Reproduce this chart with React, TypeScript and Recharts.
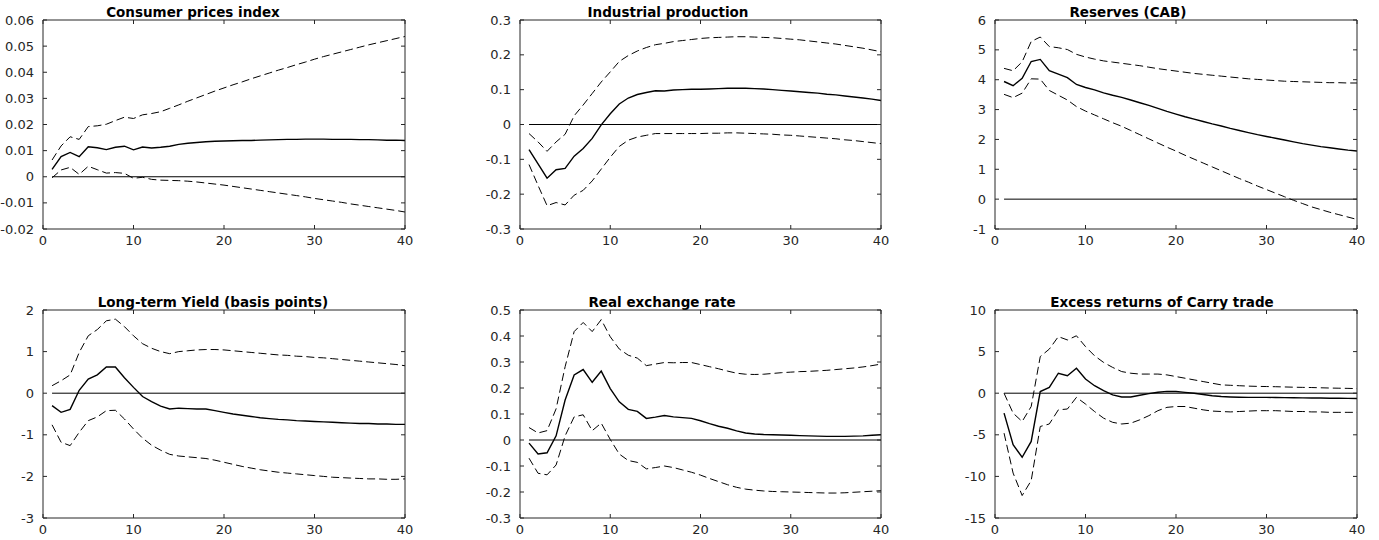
import { LineChart, Line, XAxis, YAxis, ReferenceLine } from "recharts";

const FONT = "'DejaVu Sans', sans-serif";
const INK = "#262626";

// horizons
const steps = [
  1, 2, 3, 4, 5, 6, 7, 8, 9, 10, 11, 12, 13, 14, 15, 16, 17, 18, 19, 20,
  21, 22, 23, 24, 25, 26, 27, 28, 29, 30, 31, 32, 33, 34, 35, 36, 37, 38, 39, 40,
];
const xTicks = [0, 10, 20, 30, 40];

// Consumer prices index
const cpiMid = [
  0.0028, 0.0077, 0.0093, 0.0077, 0.0115, 0.0111, 0.0104, 0.0113, 0.0117, 0.0103,
  0.0114, 0.011, 0.0113, 0.0117, 0.0124, 0.0128, 0.0131, 0.0134, 0.0136, 0.0137,
  0.0138, 0.0139, 0.0139, 0.014, 0.0141, 0.0142, 0.0143, 0.0143, 0.0144, 0.0144,
  0.0144, 0.0143, 0.0143, 0.0143, 0.0142, 0.0142, 0.0141, 0.014, 0.014, 0.0139,
];
const cpiHi = [
  0.0064, 0.0118, 0.0153, 0.0143, 0.0192, 0.0195, 0.0201, 0.0215, 0.0228, 0.0223,
  0.0237, 0.0242, 0.0249, 0.0262, 0.0275, 0.0289, 0.0302, 0.0315, 0.0328, 0.034,
  0.0352, 0.0363, 0.0375, 0.0386, 0.0397, 0.0408, 0.0418, 0.0429, 0.0439, 0.045,
  0.046, 0.0469, 0.0478, 0.0487, 0.0496, 0.0505, 0.0513, 0.0521, 0.0529, 0.0537,
];
const cpiLo = [
  -0.0004, 0.0026, 0.0036, 0.0009, 0.004, 0.0027, 0.0014, 0.0016, 0.0013, -0.0006,
  -0.0002, -0.001, -0.0013, -0.0014, -0.0015, -0.0017, -0.002, -0.0024, -0.0028, -0.0032,
  -0.0037, -0.0042, -0.0047, -0.0052, -0.0057, -0.0062, -0.0067, -0.0072, -0.0077, -0.0083,
  -0.0088, -0.0093, -0.0098, -0.0104, -0.0109, -0.0114, -0.0119, -0.0124, -0.0129, -0.0135,
];
const cpiTicks = [-0.02, -0.01, 0, 0.01, 0.02, 0.03, 0.04, 0.05, 0.06];

// Industrial production
const ipMid = [
  -0.072, -0.113, -0.154, -0.13, -0.126, -0.091, -0.069, -0.04, -0.001, 0.031,
  0.059, 0.076, 0.086, 0.092, 0.097, 0.096, 0.099, 0.1, 0.101, 0.101,
  0.102, 0.103, 0.104, 0.104, 0.104, 0.103, 0.102, 0.1, 0.098, 0.096,
  0.094, 0.092, 0.09, 0.087, 0.085, 0.082, 0.079, 0.076, 0.073, 0.069,
];
const ipHi = [
  -0.026, -0.05, -0.077, -0.05, -0.028, 0.025, 0.056, 0.089, 0.122, 0.151,
  0.181, 0.198, 0.211, 0.221, 0.229, 0.233, 0.238, 0.241, 0.244, 0.247,
  0.249, 0.25, 0.251, 0.252, 0.252, 0.251, 0.25, 0.249, 0.247, 0.245,
  0.243, 0.24, 0.237, 0.234, 0.231, 0.227, 0.223, 0.219, 0.214, 0.209,
];
const ipLo = [
  -0.115, -0.175, -0.233, -0.224, -0.231, -0.203, -0.189, -0.162, -0.128, -0.094,
  -0.063, -0.045, -0.036, -0.031, -0.026, -0.026, -0.026, -0.026, -0.026, -0.026,
  -0.025, -0.025, -0.024, -0.024, -0.025, -0.026, -0.027, -0.028, -0.03, -0.031,
  -0.033, -0.035, -0.037, -0.039, -0.041, -0.044, -0.046, -0.049, -0.052, -0.055,
];
const ipTicks = [-0.3, -0.2, -0.1, 0, 0.1, 0.2, 0.3];

// Reserves (CAB)
const resMid = [
  3.94, 3.8, 4.05, 4.61, 4.68, 4.3, 4.19, 4.07, 3.84, 3.74,
  3.66, 3.56, 3.48, 3.41, 3.32, 3.23, 3.14, 3.04, 2.94, 2.85,
  2.76, 2.68, 2.6, 2.52, 2.45, 2.37, 2.3, 2.23, 2.16, 2.1,
  2.04, 1.98, 1.92, 1.86, 1.81, 1.76, 1.72, 1.68, 1.64, 1.61,
];
const resHi = [
  4.38, 4.3, 4.6, 5.28, 5.43, 5.11, 5.07, 5.01, 4.85, 4.76,
  4.69, 4.63, 4.59, 4.55, 4.51, 4.47, 4.42, 4.37, 4.33, 4.29,
  4.25, 4.21, 4.18, 4.15, 4.12, 4.09, 4.06, 4.03, 4.01, 3.99,
  3.97, 3.95, 3.94, 3.93, 3.92, 3.91, 3.9, 3.9, 3.89, 3.89,
];
const resLo = [
  3.51, 3.4, 3.55, 4.03, 4.02, 3.64, 3.48, 3.32, 3.1, 2.95,
  2.82, 2.69, 2.56, 2.44, 2.3, 2.16, 2.02, 1.88, 1.74, 1.61,
  1.47, 1.34, 1.21, 1.08, 0.95, 0.82, 0.69, 0.57, 0.44, 0.32,
  0.2, 0.08, -0.04, -0.15, -0.26, -0.35, -0.44, -0.52, -0.6, -0.68,
];
const resTicks = [-1, 0, 1, 2, 3, 4, 5, 6];

// Long-term yield
const ltyMid = [
  -0.3, -0.46, -0.39, 0.07, 0.34, 0.44, 0.63, 0.63, 0.37, 0.14,
  -0.08, -0.2, -0.31, -0.38, -0.36, -0.37, -0.38, -0.38, -0.42, -0.46,
  -0.5, -0.53, -0.56, -0.59, -0.61, -0.63, -0.64, -0.66, -0.67, -0.68,
  -0.69, -0.7, -0.71, -0.72, -0.73, -0.73, -0.74, -0.74, -0.75, -0.75,
];
const ltyHi = [
  0.18, 0.3, 0.44, 0.98, 1.38, 1.53, 1.74, 1.78, 1.6, 1.38,
  1.19, 1.08, 1.0, 0.95, 1.0, 1.02, 1.04, 1.05, 1.05, 1.04,
  1.02, 1.0, 0.98, 0.96, 0.94, 0.92, 0.91, 0.89, 0.88, 0.86,
  0.85, 0.83, 0.81, 0.79, 0.77, 0.75, 0.73, 0.71, 0.69, 0.66,
];
const ltyLo = [
  -0.76, -1.18, -1.26, -0.94, -0.66, -0.57, -0.42, -0.41, -0.62, -0.86,
  -1.08, -1.25, -1.37, -1.47, -1.51, -1.53, -1.55, -1.57, -1.61, -1.66,
  -1.71, -1.76, -1.8, -1.84, -1.87, -1.9, -1.92, -1.94, -1.96, -1.98,
  -2.0, -2.02, -2.03, -2.04, -2.05, -2.06, -2.06, -2.07, -2.07, -2.06,
];
const ltyTicks = [-3, -2, -1, 0, 1, 2];

// Real exchange rate
const rerMid = [
  -0.012, -0.054, -0.049, 0.016, 0.154, 0.25, 0.271, 0.222, 0.265, 0.198,
  0.147, 0.118, 0.11, 0.083, 0.088, 0.094, 0.089, 0.086, 0.083, 0.074,
  0.063, 0.053, 0.045, 0.035, 0.027, 0.023, 0.021, 0.02, 0.019, 0.018,
  0.017, 0.016, 0.015, 0.014, 0.014, 0.014, 0.015, 0.016, 0.018, 0.02,
];
const rerHi = [
  0.048, 0.027, 0.036, 0.12, 0.282, 0.417, 0.452, 0.417, 0.463, 0.397,
  0.35, 0.326, 0.315, 0.286, 0.292, 0.298, 0.297, 0.298, 0.298, 0.29,
  0.282, 0.274, 0.265, 0.257, 0.253, 0.252, 0.253, 0.256, 0.259, 0.261,
  0.263, 0.264, 0.266, 0.268, 0.271, 0.274, 0.277, 0.281, 0.286, 0.292,
];
const rerLo = [
  -0.07, -0.128, -0.134, -0.096, 0.016, 0.089, 0.097, 0.036, 0.065, 0.002,
  -0.054, -0.079, -0.086, -0.111, -0.106, -0.1, -0.106, -0.115, -0.124, -0.135,
  -0.148, -0.16, -0.172, -0.182, -0.189, -0.193, -0.196, -0.198, -0.199, -0.2,
  -0.201, -0.202, -0.203, -0.204, -0.204, -0.203, -0.201, -0.199, -0.197, -0.195,
];
const rerTicks = [-0.3, -0.2, -0.1, 0, 0.1, 0.2, 0.3, 0.4, 0.5];

// Excess returns of carry trade
const carryMid = [
  -2.4, -6.2, -7.7, -5.8, 0.2, 0.7, 2.4, 2.1, 3.0, 1.7,
  0.9, 0.3, -0.2, -0.45, -0.45, -0.25, -0.05, 0.12, 0.22, 0.2,
  0.1, 0.0, -0.15, -0.3, -0.4, -0.45, -0.48, -0.5, -0.5, -0.5,
  -0.52, -0.53, -0.55, -0.56, -0.57, -0.58, -0.6, -0.61, -0.62, -0.63,
];
const carryHi = [
  0.0, -2.4, -3.4, -1.6, 4.4, 5.3, 6.8, 6.4, 6.9, 5.6,
  4.5, 3.7, 3.1, 2.6, 2.4, 2.3, 2.3, 2.3, 2.2, 2.0,
  1.8, 1.6, 1.4, 1.2, 1.0, 0.95, 0.9, 0.85, 0.82, 0.8,
  0.78, 0.75, 0.72, 0.7, 0.68, 0.65, 0.62, 0.6, 0.58, 0.55,
];
const carryLo = [
  -4.8, -9.6, -12.3, -10.5, -4.0, -3.7, -2.0, -1.9, -0.5, -1.3,
  -2.2, -3.0, -3.5, -3.7, -3.6, -3.2, -2.7, -2.1, -1.7, -1.6,
  -1.6, -1.8, -2.0, -2.15, -2.2, -2.25, -2.2, -2.15, -2.1, -2.1,
  -2.1, -2.15, -2.2, -2.2, -2.25, -2.25, -2.3, -2.3, -2.3, -2.3,
];
const carryTicks = [-15, -10, -5, 0, 5, 10];

interface PanelProps {
  title: string;
  left: number;
  top: number;
  w: number;
  h: number;
  titleX: number;
  titleY: number;
  mid: number[];
  hi: number[];
  lo: number[];
  yTicks: number[];
}

const YW = 43;
const XH = 25;
const PAD_T = 10;
const PAD_R = 14;
const tickFont = { fill: INK, fontSize: 13, fontFamily: FONT };
const blank = () => "";

function Panel({ title, left, top, w, h, titleX, titleY, mid, hi, lo, yTicks }: PanelProps) {
  const data = steps.map((s, i) => ({ s, mid: mid[i], hi: hi[i], lo: lo[i] }));
  const yDomain = [yTicks[0], yTicks[yTicks.length - 1]];

  return (
    <>
      <div
        style={{
          position: "absolute",
          left: titleX - 200,
          width: 400,
          top: titleY - 9,
          lineHeight: "18px",
          textAlign: "center",
          fontFamily: FONT,
          fontWeight: "bold",
          fontSize: 13.5,
          color: "#000",
        }}
      >
        {title}
      </div>
      <div style={{ position: "absolute", left: left - YW, top: top - 1 - PAD_T }}>
        <LineChart
          width={YW + w + 1 + PAD_R}
          height={PAD_T + 1 + h + XH}
          data={data}
          margin={{ top: PAD_T, right: PAD_R, bottom: 0, left: 0 }}
        >
          <XAxis
            xAxisId="b"
            dataKey="s"
            type="number"
            domain={[0, 40]}
            ticks={xTicks}
            interval={0}
            height={XH}
            tickSize={-4}
            tickMargin={11}
            stroke={INK}
            tick={tickFont}
            allowDataOverflow
          />
          <XAxis
            xAxisId="t"
            dataKey="s"
            type="number"
            orientation="top"
            domain={[0, 40]}
            ticks={xTicks}
            interval={0}
            height={1}
            tickSize={-4}
            tickFormatter={blank}
            stroke={INK}
            allowDataOverflow
          />
          <YAxis
            yAxisId="l"
            type="number"
            domain={yDomain}
            ticks={yTicks}
            interval={0}
            width={YW}
            tickSize={-4}
            tickMargin={13}
            stroke={INK}
            tick={tickFont}
            allowDataOverflow
          />
          <YAxis
            yAxisId="r"
            type="number"
            orientation="right"
            domain={yDomain}
            ticks={yTicks}
            interval={0}
            width={1}
            tickSize={-4}
            tickFormatter={blank}
            stroke={INK}
            allowDataOverflow
          />
          <ReferenceLine
            xAxisId="b"
            yAxisId="l"
            segment={[{ x: 1, y: 0 }, { x: 40, y: 0 }]}
            stroke="#000"
            strokeWidth={1}
          />
          <Line
            xAxisId="b"
            yAxisId="l"
            type="linear"
            dataKey="hi"
            stroke="#000"
            strokeWidth={1}
            strokeDasharray="8 4"
            dot={false}
            isAnimationActive={false}
          />
          <Line
            xAxisId="b"
            yAxisId="l"
            type="linear"
            dataKey="lo"
            stroke="#000"
            strokeWidth={1}
            strokeDasharray="8 4"
            dot={false}
            isAnimationActive={false}
          />
          <Line
            xAxisId="b"
            yAxisId="l"
            type="linear"
            dataKey="mid"
            stroke="#000"
            strokeWidth={1.4}
            dot={false}
            isAnimationActive={false}
          />
        </LineChart>
      </div>
    </>
  );
}

export default function App() {
  return (
    <div
      style={{
        position: "absolute",
        left: 0,
        top: 0,
        width: 1379,
        height: 540,
        background: "#fff",
        overflow: "hidden",
      }}
    >
      <Panel title="Consumer prices index" left={43} top={20} w={362} h={209} titleX={193} titleY={12} mid={cpiMid} hi={cpiHi} lo={cpiLo} yTicks={cpiTicks} />
      <Panel title="Industrial production" left={520} top={20} w={361} h={209} titleX={668} titleY={12} mid={ipMid} hi={ipHi} lo={ipLo} yTicks={ipTicks} />
      <Panel title="Reserves (CAB)" left={995} top={20} w={362} h={209} titleX={1128} titleY={12} mid={resMid} hi={resHi} lo={resLo} yTicks={resTicks} />
      <Panel title="Long-term Yield (basis points)" left={43} top={310} w={362} h={208} titleX={213} titleY={302} mid={ltyMid} hi={ltyHi} lo={ltyLo} yTicks={ltyTicks} />
      <Panel title="Real exchange rate" left={520} top={310} w={361} h={208} titleX={662} titleY={302} mid={rerMid} hi={rerHi} lo={rerLo} yTicks={rerTicks} />
      <Panel title="Excess returns of Carry trade" left={995} top={310} w={362} h={208} titleX={1162} titleY={302} mid={carryMid} hi={carryHi} lo={carryLo} yTicks={carryTicks} />
    </div>
  );
}
